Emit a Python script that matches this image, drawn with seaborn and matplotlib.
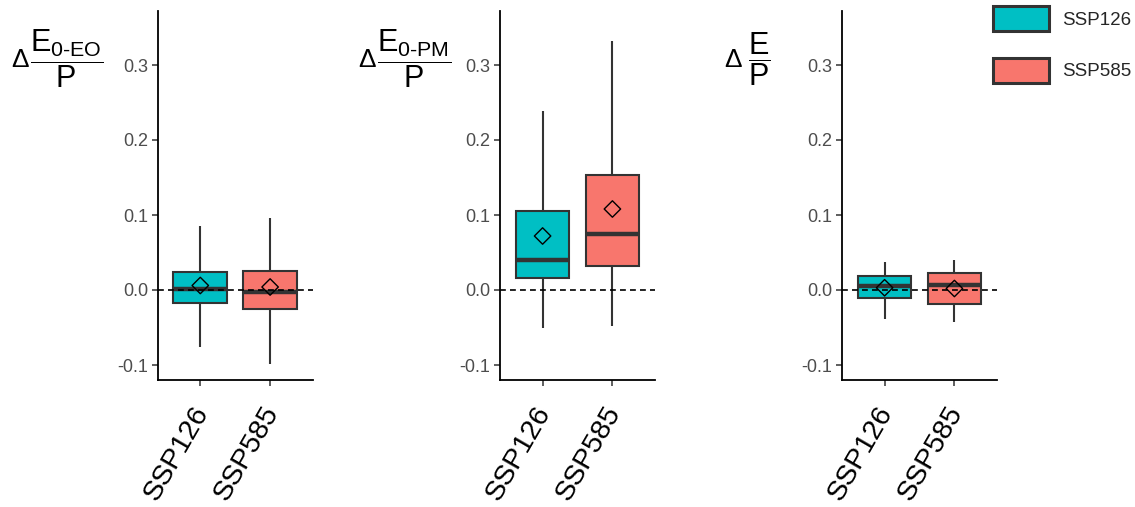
import numpy as np
import pandas as pd
import seaborn as sns
import matplotlib.pyplot as plt
from matplotlib.patches import Patch

scenarios = ["SSP126", "SSP585"]
colors = ["#00BFC4", "#F8766D"]

# five-number summaries: [whisker low, q1, median, q3, whisker high]
eo_126 = [-0.076, -0.017, 0.001, 0.024, 0.085]
eo_585 = [-0.099, -0.025, -0.003, 0.026, 0.096]
pm_126 = [-0.050, 0.016, 0.040, 0.106, 0.239]
pm_585 = [-0.048, 0.032, 0.075, 0.154, 0.332]
e_126 = [-0.039, -0.010, 0.006, 0.019, 0.038]
e_585 = [-0.042, -0.018, 0.007, 0.023, 0.040]

# means (diamonds)
eo_mean = [0.006, 0.004]
pm_mean = [0.072, 0.108]
e_mean = [0.003, 0.002]

panel_labels = [
    r"$\dfrac{\mathrm{E}_{\text{0-EO}}}{\mathrm{P}}$",
    r"$\dfrac{\mathrm{E}_{\text{0-PM}}}{\mathrm{P}}$",
    r"$\dfrac{\mathrm{E}}{\mathrm{P}}$",
]
panels = [
    (eo_126, eo_585, eo_mean),
    (pm_126, pm_585, pm_mean),
    (e_126, e_585, e_mean),
]
yticks = [-0.1, 0.0, 0.1, 0.2, 0.3]

sns.set_theme(style="ticks")
plt.rcParams["font.family"] = ["Liberation Sans", "DejaVu Sans"]
plt.rcParams["mathtext.fontset"] = "custom"
plt.rcParams["mathtext.rm"] = "Liberation Sans"
plt.rcParams["mathtext.it"] = "Liberation Sans"
plt.rcParams["mathtext.bf"] = "Liberation Sans:bold"

fig = plt.figure(figsize=(11.35, 5.07), dpi=100)
W, H = 1135, 507
lefts = [157.7, 500, 842]
# label placement (axes coords): delta x, fraction x
lab_pos = [(-0.89, -0.59), (-0.86, -0.555), (-0.705, -0.535)]

for i, (a, b, m) in enumerate(panels):
    ax = fig.add_axes([lefts[i] / W, 1 - 380 / H, 155 / W, 369 / H])
    df = pd.DataFrame({
        "scenario": [scenarios[0]] * len(a) + [scenarios[1]] * len(b),
        "value": a + b,
    })
    sns.boxplot(data=df, x="scenario", y="value", hue="scenario",
                order=scenarios, hue_order=scenarios, palette=colors,
                saturation=1, width=0.77, whis=(0, 100),
                linecolor="#333333", linewidth=1.5,
                showcaps=False, medianprops=dict(linewidth=3.2),
                legend=False, ax=ax)
    ax.axhline(0, color="black", linestyle="--", dashes=(3.5, 2.5), linewidth=1.2, zorder=10)
    ax.scatter(np.arange(len(scenarios)), m, marker="D", s=70,
               facecolor="none", edgecolor="black", linewidth=1.0, zorder=11)

    ax.set_xlim(-0.61, 1.61)
    ax.set_ylim(-0.12, 0.372)
    ax.set_yticks(yticks)
    ax.set_yticklabels([f"{t:.1f}" for t in yticks])
    ax.set_xlabel("")
    ax.set_ylabel("")
    sns.despine(ax=ax)
    for s in ["left", "bottom"]:
        ax.spines[s].set_linewidth(1.3)
        ax.spines[s].set_color("black")
    ax.tick_params(axis="y", labelsize=13, labelcolor="#4D4D4D", color="#333333",
                   length=4, width=1.1, pad=3)
    ax.tick_params(axis="x", labelsize=20.5, labelcolor="black", color="#333333",
                   length=4, width=1.1, pad=15)
    plt.setp(ax.get_xticklabels(), rotation=60, ha="right", va="center_baseline",
             rotation_mode="anchor")

    dx, fx = lab_pos[i]
    ax.text(dx, 0.866, "\u0394", transform=ax.transAxes, ha="center", va="center",
            fontsize=19, color="black")
    ax.text(fx, 0.87, panel_labels[i], transform=ax.transAxes, ha="center",
            va="center", fontsize=22, color="black")

handles = [Patch(facecolor=c, edgecolor="#333333", linewidth=2.2, label=s)
           for s, c in zip(scenarios, colors)]
fig.legend(handles=handles, loc="upper left", bbox_to_anchor=(993 / W, 1 - 6 / H),
           frameon=False, fontsize=13.5, handlelength=3.0, handleheight=1.7,
           labelspacing=1.4, handletextpad=0.7, borderpad=0, borderaxespad=0)

fig.savefig("out.png", dpi=100)
